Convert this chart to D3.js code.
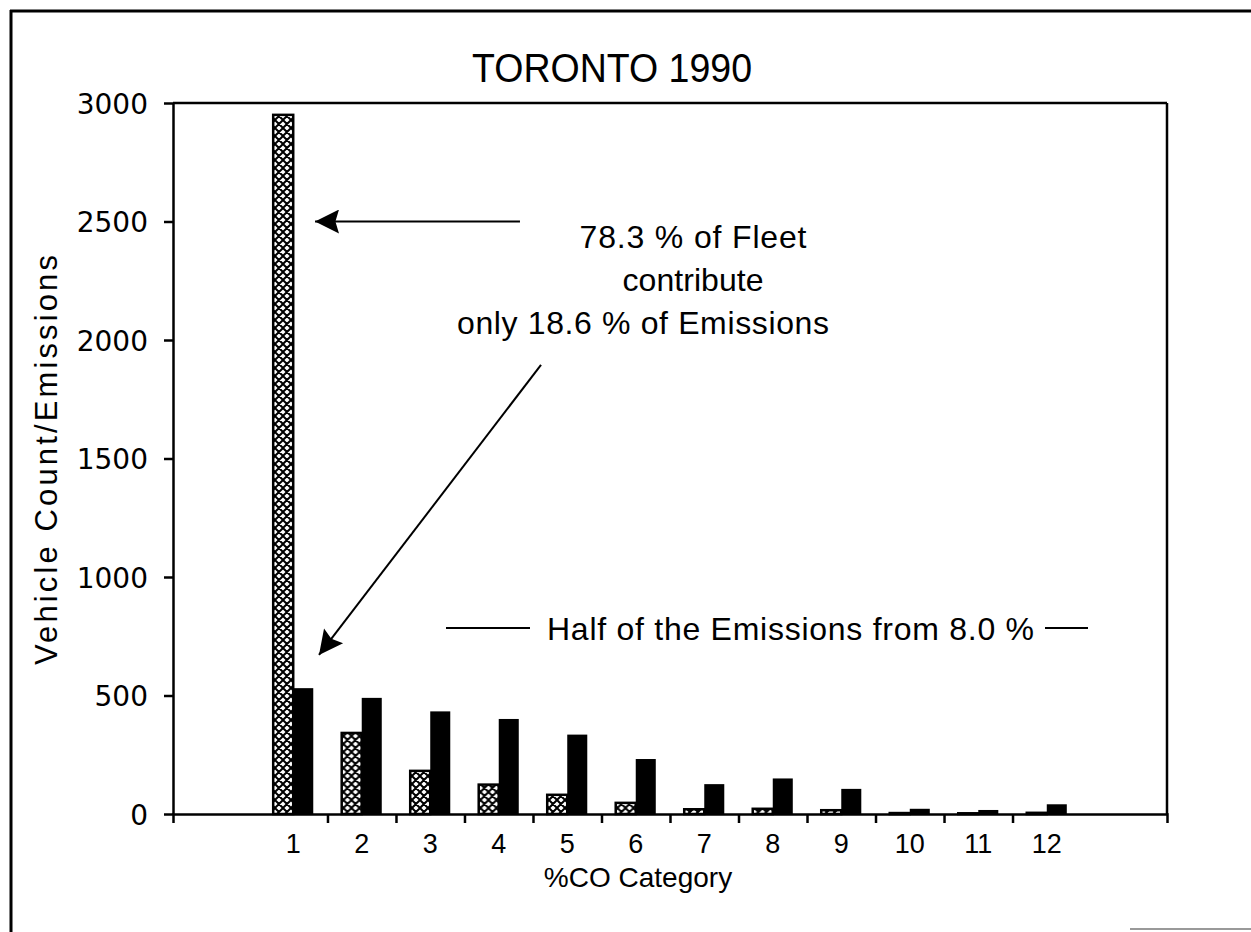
<!DOCTYPE html>
<html>
<head>
<meta charset="utf-8">
<script src="https://cdn.jsdelivr.net/npm/d3@7"></script>
<style>
  body { margin: 0; background: #fff; }
  svg { display: block; }
  .thin { font-family: "Liberation Sans", Arial, sans-serif; }
  .round { font-family: "DejaVu Sans", sans-serif; }
</style>
</head>
<body>
<svg id="chart"></svg>
<script>
const width = 1251;
const height = 932;

// plot box
const plotLeft = 173, plotRight = 1167, plotTop = 103, plotBottom = 814;

// data
const categories = ["1", "2", "3", "4", "5", "6", "7", "8", "9", "10", "11", "12"];
const vehicleCount = [2950, 342, 182, 124, 81, 47, 20, 22, 16, 4, 3, 5];
const emissions = [531, 490, 433, 401, 335, 232, 126, 150, 106, 22, 17, 41];
const yTicks = [0, 500, 1000, 1500, 2000, 2500, 3000];
const xBoundaryTicks = [1.5, 2.5, 3.5, 4.5, 5.5, 6.5, 7.5, 8.5, 9.5, 10.5, 11.5];

const titleText = "TORONTO 1990";
const xTitle = "%CO Category";
const yTitle = "Vehicle Count/Emissions";
const noteLines = ["78.3 % of Fleet", "contribute", "only 18.6 % of Emissions"];
const halfNote = "Half of the Emissions from 8.0 %";

var svg = d3.select("#chart")
    .attr("width", width)
    .attr("height", height);

// hatch pattern for the vehicle count bars
var defs = svg.append("defs");
var pat = defs.append("pattern")
    .attr("id", "xhatch")
    .attr("patternUnits", "userSpaceOnUse")
    .attr("width", 8)
    .attr("height", 8);
pat.append("rect").attr("width", 8).attr("height", 8).attr("fill", "#fff");
pat.append("path")
    .attr("d", "M0,0L8,8M8,0L0,8M-1,7L1,9M7,-1L9,1M-1,1L1,-1M7,9L9,7")
    .attr("stroke", "#000")
    .attr("stroke-width", 2);

var marker = defs.append("marker")
    .attr("id", "head")
    .attr("viewBox", "0 0 10 10")
    .attr("refX", 10).attr("refY", 5)
    .attr("markerUnits", "userSpaceOnUse")
    .attr("markerWidth", 44).attr("markerHeight", 24)
    .attr("orient", "auto");
marker.append("path").attr("d", "M0,0L10,5L0,10L1.5,5Z").attr("fill", "#000");

// page frame (scanned sheet edges)
svg.append("line").attr("x1", 10).attr("y1", 11).attr("x2", width).attr("y2", 11)
    .attr("stroke", "#000").attr("stroke-width", 3);
svg.append("line").attr("x1", 11).attr("y1", 10).attr("x2", 11).attr("y2", height)
    .attr("stroke", "#000").attr("stroke-width", 3);
svg.append("line").attr("x1", 1130).attr("y1", 929).attr("x2", width).attr("y2", 929)
    .attr("stroke", "#777").attr("stroke-width", 1.5);

// scales
var y = d3.scaleLinear().domain([0, 3000]).range([plotBottom, plotTop]);
var xLin = d3.scaleLinear().domain([-0.755, 13.755]).range([plotLeft, plotRight]);
var xBand = d3.scaleBand().domain(categories).range([plotLeft, plotRight]).paddingInner(0).paddingOuter(1.255);
var xSub = d3.scaleBand().domain(["count", "emis"]).range([0, xBand.bandwidth()]).paddingInner(0).paddingOuter(0.71);

// frame top and right
svg.append("line").attr("x1", plotLeft).attr("y1", plotTop).attr("x2", plotRight).attr("y2", plotTop)
    .attr("stroke", "#000").attr("stroke-width", 2.5);
svg.append("line").attr("x1", plotRight).attr("y1", plotTop).attr("x2", plotRight).attr("y2", plotBottom)
    .attr("stroke", "#000").attr("stroke-width", 2.5);

// bars
var groups = svg.append("g").selectAll("g")
    .data(categories)
    .enter().append("g")
    .attr("transform", d => `translate(${xBand(d)},0)`);

groups.append("rect")
    .attr("x", xSub("count"))
    .attr("width", xSub.bandwidth())
    .attr("y", (d, i) => y(vehicleCount[i]))
    .attr("height", (d, i) => plotBottom - y(vehicleCount[i]))
    .attr("fill", "url(#xhatch)")
    .attr("stroke", "#000")
    .attr("stroke-width", 2.5);

groups.append("rect")
    .attr("x", xSub("emis"))
    .attr("width", xSub.bandwidth())
    .attr("y", (d, i) => y(emissions[i]))
    .attr("height", (d, i) => plotBottom - y(emissions[i]))
    .attr("fill", "#000");

// y axis
var yAxis = d3.axisLeft(y).tickValues(yTicks).tickSize(9).tickSizeOuter(0).tickPadding(16)
    .tickFormat(d3.format("d"));
var gy = svg.append("g")
    .attr("transform", `translate(${plotLeft},0)`)
    .call(yAxis);
gy.selectAll("path, line").attr("stroke", "#000").attr("stroke-width", 2.5);
gy.selectAll("text")
    .attr("class", "round")
    .attr("font-size", 28)
    .attr("fill", "#000")
    .attr("dy", "0.36em");

// x axis: boundary ticks plus end ticks
var xAxis = d3.axisBottom(xLin).tickValues(xBoundaryTicks).tickSize(9).tickSizeOuter(9).tickFormat("");
var gx = svg.append("g")
    .attr("transform", `translate(0,${plotBottom})`)
    .call(xAxis);
gx.selectAll("path, line").attr("stroke", "#000").attr("stroke-width", 2.5);

// category labels
var xLabels = d3.axisBottom(xBand).tickSize(0).tickPadding(20);
var gl = svg.append("g")
    .attr("transform", `translate(0,${plotBottom})`)
    .call(xLabels);
gl.select(".domain").remove();
gl.selectAll("text")
    .attr("class", "thin")
    .attr("font-size", 27)
    .attr("fill", "#000");

// titles
svg.append("text")
    .attr("class", "thin")
    .attr("x", 612).attr("y", 82)
    .attr("text-anchor", "middle")
    .attr("font-size", 40)
    .attr("textLength", 280)
    .attr("lengthAdjust", "spacingAndGlyphs")
    .text(titleText);

svg.append("text")
    .attr("class", "thin")
    .attr("x", 638).attr("y", 887)
    .attr("text-anchor", "middle")
    .attr("font-size", 28)
    .text(xTitle);

svg.append("text")
    .attr("class", "thin")
    .attr("transform", "translate(57,460) rotate(-90)")
    .attr("text-anchor", "middle")
    .attr("font-size", 31)
    .attr("textLength", 410)
    .text(yTitle);

// annotations
svg.append("line")
    .attr("x1", xLin(4.31)).attr("y1", y(2500))
    .attr("x2", xLin(1.318)).attr("y2", y(2500))
    .attr("stroke", "#000").attr("stroke-width", 2)
    .attr("marker-end", "url(#head)");

svg.append("line")
    .attr("x1", xLin(4.617)).attr("y1", y(1895))
    .attr("x2", xLin(1.376)).attr("y2", y(671))
    .attr("stroke", "#000").attr("stroke-width", 2)
    .attr("marker-end", "url(#head)");

var noteX = [693, 693, 643];
var noteY = [248, 291, 334];
var noteW = [227, 141, 372];
svg.append("g").selectAll("text")
    .data(noteLines)
    .enter().append("text")
    .attr("class", "thin")
    .attr("x", (d, i) => noteX[i])
    .attr("y", (d, i) => noteY[i])
    .attr("text-anchor", "middle")
    .attr("font-size", 32)
    .attr("textLength", (d, i) => noteW[i])
    .text(d => d);

svg.append("line").attr("x1", 446).attr("y1", 628).attr("x2", 530).attr("y2", 628)
    .attr("stroke", "#000").attr("stroke-width", 2);
svg.append("text")
    .attr("class", "thin")
    .attr("x", 547).attr("y", 640)
    .attr("font-size", 32)
    .attr("textLength", 487)
    .text(halfNote);
svg.append("line").attr("x1", 1045).attr("y1", 628).attr("x2", 1088).attr("y2", 628)
    .attr("stroke", "#000").attr("stroke-width", 2);
</script>
</body>
</html>
